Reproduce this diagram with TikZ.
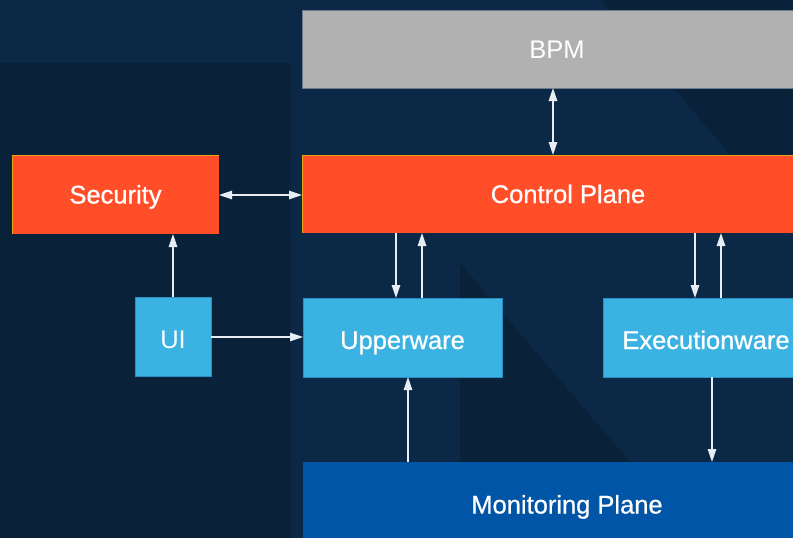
\documentclass[tikz,border=0pt]{standalone}
\usepackage{fontspec}
\setmainfont{Liberation Sans}
\newfontfamily\medfont{Liberation Sans}[FakeBold=0.7]
\usetikzlibrary{arrows.meta}
\definecolor{bglight}{HTML}{0B2946}
\definecolor{bgdark}{HTML}{0A2239}
\definecolor{redbox}{HTML}{FF4E28}
\definecolor{rededge}{HTML}{E8A317}
\definecolor{bluebox}{HTML}{3AB2E2}
\definecolor{blueedge}{HTML}{2A8EC2}
\definecolor{greybox}{HTML}{B1B1B1}
\definecolor{greyedge}{HTML}{6C7B8B}
\definecolor{monbox}{HTML}{0055A6}
\definecolor{arrowcol}{HTML}{E6ECF2}
\tikzset{
  box/.style={rectangle, anchor=north west, outer sep=0pt, inner sep=0pt,
    text=white, text height=18pt, text depth=0pt,
    font=\fontsize{25.5}{28}\selectfont},
  medtext/.style={font=\fontsize{25.5}{28}\selectfont\medfont},
  lowtext/.style={text height=23pt},
  redstyle/.style={box, medtext, fill=redbox},
  bluestyle/.style={box, fill=bluebox, draw=blueedge, line width=0.8pt},
  greystyle/.style={box, fill=greybox, draw=greyedge, line width=0.8pt},
  monstyle/.style={box, medtext, lowtext, fill=monbox},
  arr/.style={draw=arrowcol, line width=1.3pt, -{Triangle[length=13pt,width=8.5pt]}},
  biarr/.style={draw=arrowcol, line width=1.3pt, {Triangle[length=13pt,width=8.5pt]}-{Triangle[length=13pt,width=8.5pt]}}
}
\begin{document}
\begin{tikzpicture}[x=1pt, y=-1pt]
\useasboundingbox (0,0) rectangle (793,538);
\clip (0,0) rectangle (793,538);
% background
\fill[bglight] (0,0) rectangle (793,538);
\fill[bgdark] (0,63) rectangle (291,538);
\fill[bgdark] (600,0) -- (793,0) -- (793,230) -- cycle;
\fill[bgdark] (460,263) -- (630,462) -- (460,462) -- cycle;
% boxes
\node[greystyle, minimum width=510, minimum height=78] (bpm) at (302,10) {BPM};
\node[redstyle, minimum width=207, minimum height=79] (sec) at (12,155) {Security};
\node[redstyle, minimum width=532, minimum height=78] (ctrl) at (302,155) {Control Plane};
\draw[rededge, line width=0.8pt] (sec.south west) -- (sec.north west) -- (sec.north east);
\draw[rededge, line width=0.8pt] (ctrl.south west) -- (ctrl.north west) -- (ctrl.north east);
\node[bluestyle, lowtext, minimum width=76, minimum height=79] (ui) at (135,297) {UI};
\node[bluestyle, medtext, lowtext, minimum width=199, minimum height=79] (upper) at (303,298) {Upperware};
\node[bluestyle, medtext, lowtext, minimum width=206, minimum height=79] (exec) at (603,298) {Executionware};
\node[monstyle, minimum width=528, minimum height=80] (mon) at (303,462) {Monitoring Plane};
% column coordinates
\coordinate (c173) at (173,0);
\coordinate (c396) at (396,0);
\coordinate (c408) at (408,0);
\coordinate (c422) at (422,0);
\coordinate (c553) at (553,0);
\coordinate (c695) at (695,0);
\coordinate (c712) at (712,0);
\coordinate (c721) at (721,0);
\coordinate (r195) at (0,195);
\coordinate (r337) at (0,337);
% connectors
\draw[biarr] (bpm.south -| c553) -- (ctrl.north -| c553);
\draw[biarr] (sec.east |- r195) -- (ctrl.west |- r195);
\draw[arr] (ui.north -| c173) -- (sec.south -| c173);
\draw[arr] (ui.east |- r337) -- (upper.west |- r337);
\draw[arr] (ctrl.south -| c396) -- (upper.north -| c396);
\draw[arr] (upper.north -| c422) -- (ctrl.south -| c422);
\draw[arr] (ctrl.south -| c695) -- (exec.north -| c695);
\draw[arr] (exec.north -| c721) -- (ctrl.south -| c721);
\draw[arr] (mon.north -| c408) -- (upper.south -| c408);
\draw[arr] (exec.south -| c712) -- (mon.north -| c712);
\end{tikzpicture}
\end{document}
